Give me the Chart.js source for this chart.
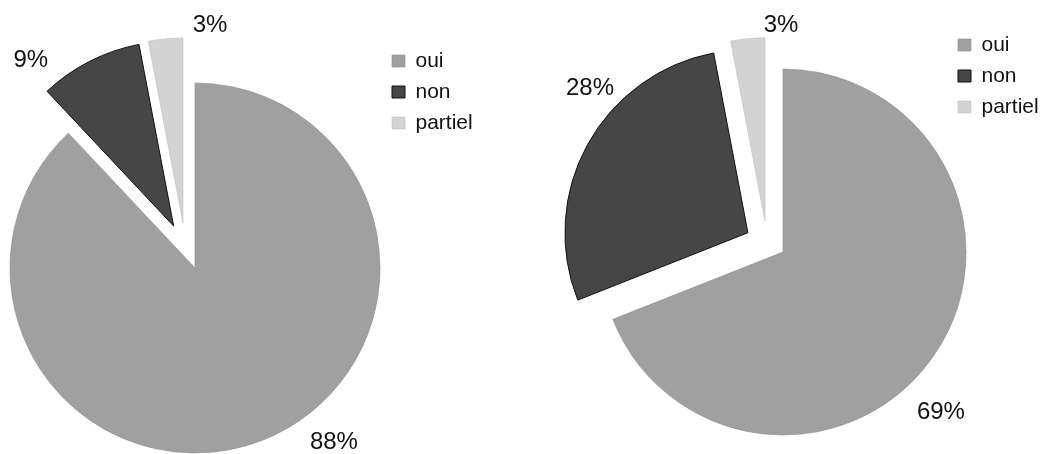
<!DOCTYPE html>
<html>
<head>
<meta charset="utf-8">
<script src="https://cdn.jsdelivr.net/npm/chart.js@4.4.1/dist/chart.umd.min.js"></script>
<style>
  html, body { margin: 0; padding: 0; background: #fff; }
  body { width: 1040px; height: 454px; overflow: hidden; position: relative; }
  canvas { position: absolute; top: 0; }
  #pieLeft { left: 0; }
  #pieRight { left: 520px; }
</style>
</head>
<body>
<canvas id="pieLeft" width="478" height="536"></canvas>
<canvas id="pieRight" width="524" height="504"></canvas>
<script>
// Answer categories shared by both pies
const categories = ['oui', 'non', 'partiel'];
// Percentages for each pie
const leftValues = [88, 9, 3];
const rightValues = [69, 28, 3];

const sliceColors = ['#a0a0a0', '#464646', '#d3d3d3'];
const sliceBorders = ['#8a8a8a', '#111111', '#bdbdbd'];

Chart.defaults.font.family = "'Liberation Sans', Arial, sans-serif";
Chart.defaults.color = '#111';

const DEG = Math.PI / 180;

// Pulls chosen slices away from the centre (along their mid-angle,
// optionally turned a little) and writes the percentage next to every slice.
const sliceLayout = {
  id: 'sliceLayout',
  afterDatasetsUpdate(chart, args, opts) {
    const meta = chart.getDatasetMeta(0);
    meta.data.forEach((arc, i) => {
      const d = (opts.explode || [])[i] || 0;
      if (!d) return;
      const dir = (arc.startAngle + arc.endAngle) / 2 + ((opts.explodeTurn || [])[i] || 0) * DEG;
      arc.x += Math.cos(dir) * d;
      arc.y += Math.sin(dir) * d;
    });
  },
  afterDatasetsDraw(chart, args, opts) {
    const ctx = chart.ctx;
    const meta = chart.getDatasetMeta(0);
    const values = chart.data.datasets[0].data;
    ctx.save();
    ctx.font = opts.font;
    ctx.fillStyle = '#111';
    ctx.textAlign = 'center';
    ctx.textBaseline = 'middle';
    meta.data.forEach((arc, i) => {
      const a = (arc.startAngle + arc.endAngle) / 2 + (opts.labelTurn[i] || 0) * DEG;
      const r = arc.outerRadius + (opts.labelGap[i] || 0);
      ctx.fillText(values[i] + '%', arc.x + Math.cos(a) * r, arc.y + Math.sin(a) * r);
    });
    ctx.restore();
  }
};

function makePie(id, values, cfg) {
  return new Chart(document.getElementById(id), {
    type: 'pie',
    plugins: [sliceLayout],
    data: {
      labels: categories,
      datasets: [{
        data: values,
        backgroundColor: sliceColors,
        borderColor: sliceBorders,
        borderWidth: [0.6, 1, 0.6],
        clip: false
      }]
    },
    options: {
      responsive: false,
      devicePixelRatio: 1,
      animation: false,
      events: [],
      radius: cfg.radius,
      layout: { padding: { left: cfg.padLeft, right: 0, top: 0, bottom: 0 } },
      plugins: {
        tooltip: { enabled: false },
        legend: {
          position: 'right',
          align: 'start',
          maxWidth: 96,
          title: { display: true, text: '', font: { size: 10, lineHeight: 1 }, padding: { top: cfg.legendTop, bottom: 0 } },
          labels: {
            boxWidth: 13,
            boxHeight: 12,
            padding: 10,
            color: '#111',
            font: { size: 21 }
          }
        },
        sliceLayout: {
          explode: cfg.explode,
          explodeTurn: cfg.explodeTurn,
          labelTurn: cfg.labelTurn,
          labelGap: cfg.labelGap,
          font: "24px 'Liberation Sans', Arial, sans-serif"
        }
      }
    }
  });
}

makePie('pieLeft', leftValues, {
  radius: 185,
  padLeft: 8,
  legendTop: 30.5,
  explode: [0, 47, 46.6],
  explodeTurn: [0, 0, -9.6],
  labelTurn: [-17, -13.7, 13.2],
  labelGap: [37.7, 34, 14.8]
});

makePie('pieRight', rightValues, {
  radius: 183,
  padLeft: 98,
  legendTop: 14.5,
  explode: [0, 40, 36],
  explodeTurn: [0, 0, -24.7],
  labelTurn: [11.2, 13.7, 10.1],
  labelGap: [41.9, 31.2, 13.4]
});
</script>
</body>
</html>
